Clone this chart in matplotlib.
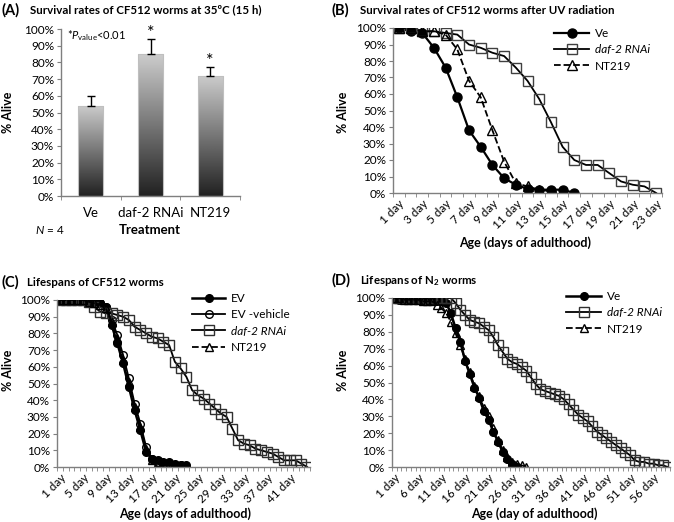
import numpy as np
import matplotlib
matplotlib.use("Agg")
import matplotlib.pyplot as plt

plt.rcParams["font.family"] = ["Lato", "DejaVu Sans"]
plt.rcParams["mathtext.fontset"] = "custom"
plt.rcParams["mathtext.rm"] = "Lato"
plt.rcParams["mathtext.it"] = "Lato:italic"
plt.rcParams["mathtext.bf"] = "Lato:bold"

# ---- data -------------------------------------------------------------
# (A) heat stress survival
a_groups = ["Ve", "daf-2 RNAi", "NT219"]
a_alive = [54, 85, 72]
a_err = [6, 9, 5]
a_sig = [False, True, True]

# (B) UV survival, one value per day starting at day 1
b_ve = [100, 98, 97, 88, 76, 58, 38, 28, 17, 9, 5, 2.5, 2, 2, 2, 0]
b_daf2 = [100, 100, 98, 98, 97, 96, 90, 88, 85, 83, 76, 68, 57, 43, 28,
          20, 17, 17, 12, 7, 5, 4, 0]
b_nt219 = [100, 100, 98, 98, 96, 87, 68, 58, 38, 19, 6, 4, 2, 1, 0]
b_ndays = 23
b_label_days = [1, 3, 5, 7, 9, 11, 13, 15, 17, 19, 21, 23]

# (C) lifespan CF512
c_ev = [100, 100, 100, 100, 100, 99, 99, 98, 96, 85, 74, 62, 48, 34, 22,
        9, 5, 4, 3, 3, 2, 1, 1]
c_vehicle = [100, 100, 100, 100, 100, 100, 99, 98, 96, 88, 79, 67, 53, 38,
             26, 12, 5, 3, 2, 2, 1, 1, 0]
c_daf2 = [100, 100, 100, 100, 100, 99, 96, 93, 92, 92, 91, 90, 88, 84, 82,
          80, 78, 77, 75, 73, 63, 59, 54, 46, 43, 41, 38, 35, 32, 30, 23, 16,
          14, 13, 11, 10, 9, 8, 6, 4, 4, 4, 2, 0]
c_nt219 = [100, 100, 100, 100, 100, 99, 98, 97, 95, 87, 77, 64, 51, 36, 24,
           11, 4, 3, 2, 1, 1, 0]
c_ndays = 44
c_label_days = [1, 5, 9, 13, 17, 21, 25, 29, 33, 37, 41]

# (D) lifespan N2
d_ve = [100, 99, 99, 99, 99, 99, 99, 99, 98, 98, 98, 97, 91, 82, 74, 63, 55,
        47, 41, 33, 28, 21, 15, 9, 5, 2, 0]
d_daf2 = [100, 100, 100, 100, 100, 100, 100, 100, 100, 100, 100, 100, 100,
          97, 93, 90, 87, 86, 85, 83, 81, 77, 72, 68, 64, 62, 61, 59, 57, 53,
          49, 46, 45, 44, 43, 42, 40, 37, 34, 31, 29, 27, 24, 21, 19, 17, 15,
          13, 11, 9, 7, 4, 3, 3, 2, 2, 1, 1, 0]
d_nt219 = [100, 100, 99, 99, 99, 99, 98, 98, 98, 96, 94, 91, 86, 79, 72, 64,
           56, 48, 42, 35, 30, 23, 16, 10, 6, 3, 2, 1, 0]
d_ndays = 59
d_label_days = [1, 6, 11, 16, 21, 26, 31, 36, 41, 46, 51, 56]

# ---- layout helpers ---------------------------------------------------
W, H = 674, 522
AXIS_GREY = "#7f7f7f"

fig = plt.figure(figsize=(W / 100, H / 100), dpi=100)


def box(x0, y0, x1, y1):
    return [x0 / W, 1 - y1 / H, (x1 - x0) / W, (y1 - y0) / H]


def ftext(x, y, s, **kw):
    kw.setdefault("va", "center")
    fig.text(x / W, 1 - y / H, s, **kw)


def pct_axis(ax):
    ax.set_ylim(0, 100)
    ax.set_yticks(range(0, 101, 10))
    ax.set_yticklabels([f"{v}%" for v in range(0, 101, 10)])
    for s in ("top", "right"):
        ax.spines[s].set_visible(False)
    for s in ("left", "bottom"):
        ax.spines[s].set_color(AXIS_GREY)
        ax.spines[s].set_linewidth(1.0)
    ax.tick_params(axis="y", length=3, color=AXIS_GREY, labelsize=8.5, pad=2)
    ax.tick_params(axis="x", which="minor", length=3, color=AXIS_GREY)
    ax.tick_params(axis="x", which="major", length=0)


def day_axis(ax, ndays, label_days):
    pct_axis(ax)
    ax.set_xlim(0.5, ndays + 0.5)
    ax.set_xticks(np.arange(0.5, ndays + 1), minor=True)
    ax.set_xticks(label_days)
    ax.set_xticklabels([f"{d} day" for d in label_days], rotation=45,
                       ha="right", va="top", rotation_mode="anchor",
                       fontsize=8.5)
    ax.tick_params(axis="x", which="major", pad=4)


def series(ax, vals, marker, ls="-", mfc="black", mec="black", ms=6.5,
           lw=1.3, label=None):
    days = np.arange(1, len(vals) + 1)
    return ax.plot(days, vals, ls=ls, color="black", lw=lw, marker=marker,
                   mfc=mfc, mec=mec, ms=ms, mew=1.0, label=label)[0]


def legend(ax, x, y, handlelength, italic_idx):
    leg = ax.legend(loc="upper left", bbox_to_anchor=(x / W, 1 - y / H),
                    bbox_transform=fig.transFigure, frameon=False,
                    fontsize=8.5, handlelength=handlelength, handletextpad=0.5,
                    labelspacing=0.45, borderpad=0, borderaxespad=0)
    for i in italic_idx:
        leg.get_texts()[i].set_fontstyle("italic")


# ---- (A) --------------------------------------------------------------
axA = fig.add_axes(box(61, 29, 240, 196))
pct_axis(axA)
xa = np.arange(1, len(a_groups) + 1)
bars = axA.bar(xa, a_alive, width=0.42, facecolor="none",
               edgecolor="#bfbfbf", linewidth=0.8, zorder=3)
grad = np.linspace(0.13, 0.80, 256).reshape(-1, 1)
for b in bars:
    im = axA.imshow(grad, cmap="gray", vmin=0, vmax=1, origin="lower",
                    extent=(b.get_x(), b.get_x() + b.get_width(), 0,
                            b.get_height()), aspect="auto", zorder=2)
    im.set_clip_path(b)
axA.errorbar(xa, a_alive, yerr=[[0] * len(a_err), a_err], fmt="none",
             ecolor="black", elinewidth=1.0, capsize=3, capthick=1.0, zorder=4)
for x, v, e, s in zip(xa, a_alive, a_err, a_sig):
    if s:
        axA.text(x, v + e - 1, "*", ha="center", va="bottom", fontsize=13)
axA.set_xlim(0.5, len(a_groups) + 0.5)
axA.set_xticks(xa)
axA.set_xticklabels(a_groups, fontsize=9.5)
axA.set_xticks(np.arange(0.5, len(a_groups) + 1), minor=True)
axA.tick_params(axis="x", which="major", pad=8)

ftext(2, 10, "(A)", fontsize=10.5, fontweight="bold")
ftext(30, 10, "Survival rates of CF512 worms at 35ºC (15 h)", fontsize=8.3,
      fontweight="bold")
ftext(8, 112, "% Alive", rotation=90, ha="center", fontsize=9,
      fontweight="bold")
ftext(150, 230, "Treatment", ha="center", fontsize=9.5, fontweight="bold")
ftext(35, 230, "$\\it{N}$ = 4", fontsize=8.5)
ftext(67, 36, "*$\\it{P}_{\\rm value}$<0.01", fontsize=8)

# ---- (B) --------------------------------------------------------------
axB = fig.add_axes(box(393, 28, 662, 193))
day_axis(axB, b_ndays, b_label_days)
series(axB, b_ve, "o", lw=1.6, ms=6.5, label="Ve")
series(axB, b_daf2, "s", mfc="none", mec="#404040", ms=7.5, label="daf-2 RNAi")
series(axB, b_nt219, "^", ls="--", mfc="none", ms=7, label="NT219")
legend(axB, 554, 28, 3.0, [1])
ftext(331, 10, "(B)", fontsize=10.5, fontweight="bold")
ftext(360, 10, "Survival rates of CF512 worms after UV radiation",
      fontsize=8.3, fontweight="bold")
ftext(343, 112, "% Alive", rotation=90, ha="center", fontsize=9,
      fontweight="bold")
ftext(525, 243, "Age (days of adulthood)", ha="center", fontsize=9,
      fontweight="bold")

# ---- (C) --------------------------------------------------------------
axC = fig.add_axes(box(57, 300, 310, 467))
day_axis(axC, c_ndays, c_label_days)
series(axC, c_ev, "o", lw=1.8, ms=5.5, label="EV")
series(axC, c_vehicle, "o", mfc="none", ms=5.5, lw=1.3, label="EV -vehicle")
series(axC, c_daf2, "s", mfc="none", mec="#303030", ms=6.5, lw=1.3,
       label="daf-2 RNAi")
series(axC, c_nt219, "^", ls="--", mfc="none", ms=5.5, lw=1.3, label="NT219")
legend(axC, 192, 293, 2.8, [2])
ftext(2, 282, "(C)", fontsize=10.5, fontweight="bold")
ftext(27, 282, "Lifespans of CF512 worms", fontsize=8.3, fontweight="bold")
ftext(8, 370, "% Alive", rotation=90, ha="center", fontsize=9,
      fontweight="bold")
ftext(185, 514, "Age (days of adulthood)", ha="center", fontsize=9,
      fontweight="bold")

# ---- (D) --------------------------------------------------------------
axD = fig.add_axes(box(392, 298, 670, 467))
day_axis(axD, d_ndays, d_label_days)
series(axD, d_ve, "o", lw=1.8, ms=5.5, label="Ve")
series(axD, d_daf2, "s", mfc="none", mec="#303030", ms=6.5, lw=1.3,
       label="daf-2 RNAi")
series(axD, d_nt219, "^", ls="--", mfc="none", ms=5.5, lw=1.3, label="NT219")
legend(axD, 566, 291, 3.0, [1])
ftext(331, 280, "(D)", fontsize=10.5, fontweight="bold")
ftext(360, 280, "Lifespans of N$_\\mathbf{2}$ worms", fontsize=8.3,
      fontweight="bold")
ftext(343, 370, "% Alive", rotation=90, ha="center", fontsize=9,
      fontweight="bold")
ftext(534, 514, "Age (day of adulthood)", ha="center", fontsize=9,
      fontweight="bold")

fig.savefig("out.png", dpi=100)
